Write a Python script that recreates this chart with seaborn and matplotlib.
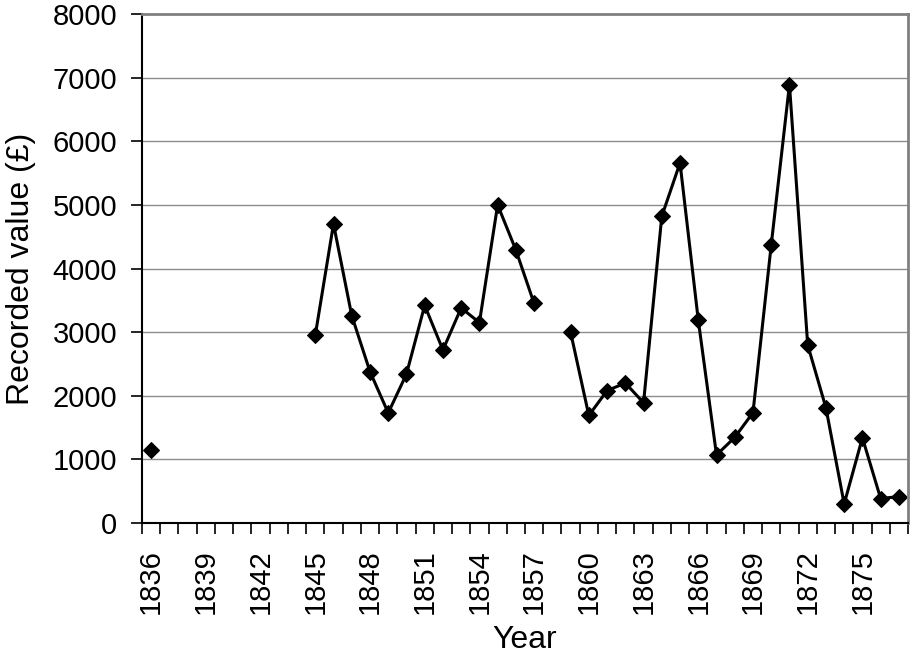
import matplotlib
matplotlib.use("Agg")
import matplotlib.pyplot as plt
import seaborn as sns
import pandas as pd
import numpy as np

# recorded values per year, None where there is no record
years = list(range(1836, 1878))
values = [1150,
          None, None, None, None, None, None, None, None,
          2950, 4700, 3260, 2380, 1730, 2340, 3420, 2720, 3380, 3150,
          5000, 4290, 3450,
          None,
          3000, 1690, 2080, 2200, 1890, 4820, 5660, 3190, 1070, 1345,
          1735, 4370, 6890, 2800, 1810, 300, 1340, 385, 415]
label_years = list(range(1836, 1876, 3))
y_ticks = list(range(0, 9000, 1000))

sns.set_style("white")
plt.rcParams["font.family"] = ["Liberation Sans", "DejaVu Sans"]
plt.rcParams["text.color"] = "black"
plt.rcParams["axes.labelcolor"] = "black"
plt.rcParams["xtick.color"] = "black"
plt.rcParams["ytick.color"] = "black"

df = pd.DataFrame({"year": years, "value": values})
# split runs separated by gaps so the line breaks there
df["run"] = df["value"].isna().cumsum()
df = df.dropna()

fig = plt.figure(figsize=(9.11, 6.58), dpi=100)
ax = fig.add_axes([142 / 911, 1 - 523 / 658, 766 / 911, 509 / 658])

for yv in y_ticks[1:-1]:
    ax.axhline(yv, color="#8c8c8c", linewidth=1.0, zorder=0)

sns.lineplot(data=df, x="year", y="value", units="run", estimator=None,
             color="black", linewidth=2.2, marker="D", markersize=8.5,
             markeredgecolor="black", ax=ax, legend=False)

ax.set_xlim(years[0] - 0.5, years[-1] + 0.5)
ax.set_ylim(0, 8000)
ax.set_yticks(y_ticks)
ax.set_yticklabels([str(v) for v in y_ticks])
ax.set_xticks(label_years)
ax.set_xticklabels([str(y) for y in label_years], rotation=90)
ax.set_xticks(np.arange(years[0] - 0.5, years[-1] + 1.0, 1.0), minor=True)

ax.tick_params(axis="x", which="major", length=0, pad=19, labelsize=21)
ax.tick_params(axis="x", which="minor", direction="out", length=8,
               width=1.2, bottom=True, color="black")
ax.tick_params(axis="y", which="major", direction="out", length=8,
               width=1.2, left=True, pad=10, labelsize=21, color="black")

for side in ["left", "bottom"]:
    ax.spines[side].set_color("black")
    ax.spines[side].set_linewidth(1.5)
for side in ["top", "right"]:
    ax.spines[side].set_color("#808080")
    ax.spines[side].set_linewidth(2.0)

ax.set_xlabel("Year", fontsize=23, labelpad=8)
ax.set_ylabel("Recorded value (£)", fontsize=23, labelpad=12)

fig.savefig("out.png", dpi=100)
